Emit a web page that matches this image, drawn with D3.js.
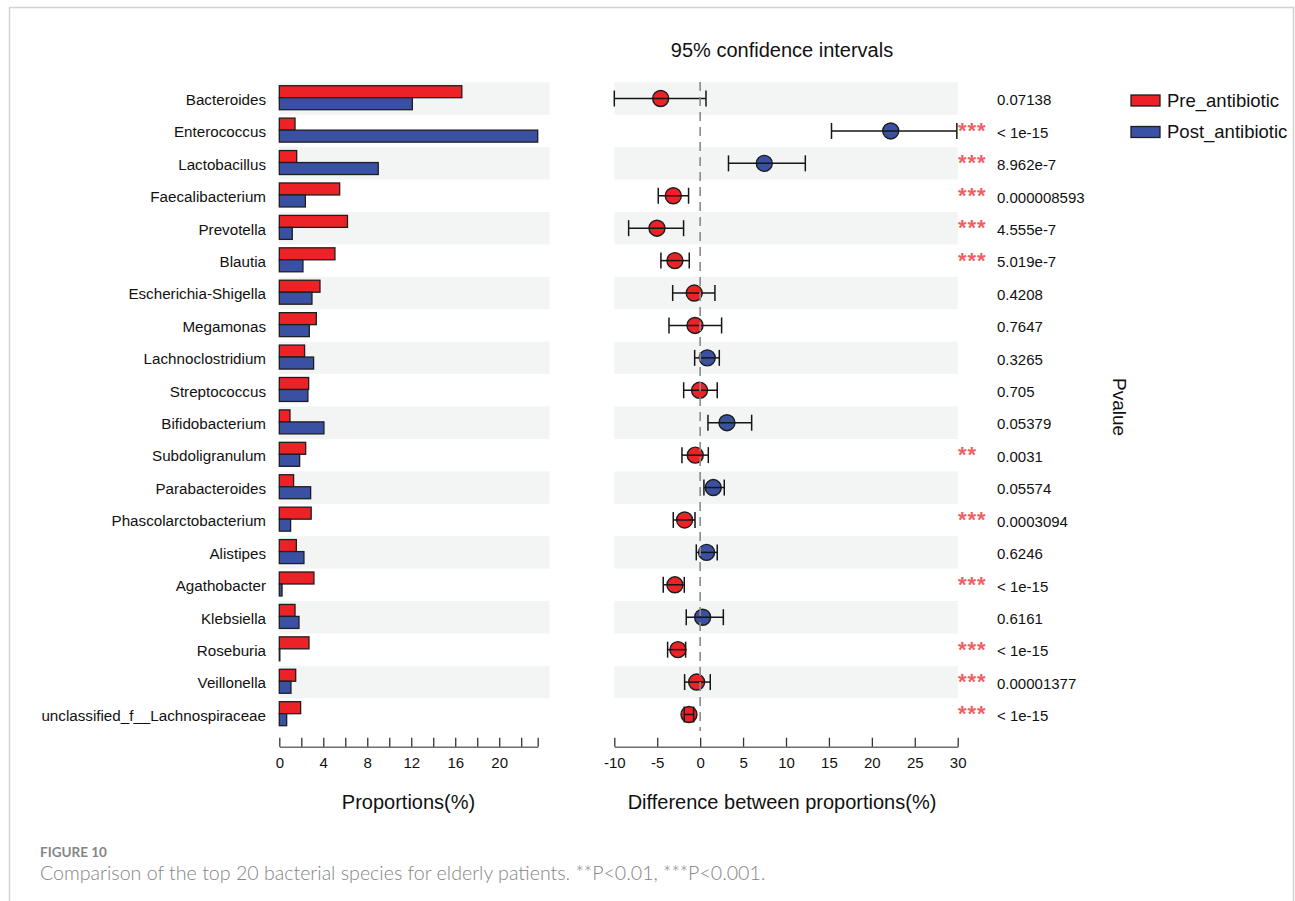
<!DOCTYPE html>
<html>
<head>
<meta charset="utf-8">
<script src="https://cdn.jsdelivr.net/npm/d3@7"></script>
<style>
  html, body { margin: 0; padding: 0; background: #fff; }
  svg { display: block; }
</style>
</head>
<body>
<svg id="fig" width="1295" height="901"></svg>
<script>
// Genera, top to bottom
const genera = [
  "Bacteroides", "Enterococcus", "Lactobacillus", "Faecalibacterium", "Prevotella",
  "Blautia", "Escherichia-Shigella", "Megamonas", "Lachnoclostridium", "Streptococcus",
  "Bifidobacterium", "Subdoligranulum", "Parabacteroides", "Phascolarctobacterium", "Alistipes",
  "Agathobacter", "Klebsiella", "Roseburia", "Veillonella", "unclassified_f__Lachnospiraceae"
];

// Mean relative abundance (%) per group
const preAntibiotic = [16.6, 1.43, 1.58, 5.49, 6.2, 5.06, 3.7, 3.37, 2.3, 2.67,
                       0.97, 2.4, 1.3, 2.9, 1.55, 3.15, 1.43, 2.7, 1.49, 1.94];
const postAntibiotic = [12.1, 23.5, 9.0, 2.37, 1.18, 2.15, 2.97, 2.73, 3.12, 2.6,
                        4.06, 1.85, 2.85, 1.03, 2.24, 0.25, 1.79, 0.05, 1.06, 0.67];

// Difference between proportions (%) with 95% confidence interval
const diffEstimate = [-4.6, 22.2, 7.47, -3.13, -5.03, -2.94, -0.69, -0.6, 0.83, -0.07,
                      3.12, -0.57, 1.53, -1.81, 0.75, -2.94, 0.29, -2.59, -0.41, -1.3];
const ciLower = [-10.0, 15.3, 3.3, -4.88, -8.33, -4.57, -3.2, -3.63, -0.64, -1.92,
                 0.91, -2.12, 0.44, -3.13, -0.45, -4.3, -1.62, -3.79, -1.81, -1.85];
const ciUpper = [0.68, 29.9, 12.25, -1.35, -1.93, -1.27, 1.72, 2.5, 2.23, 1.99,
                 6.0, 0.95, 2.81, -0.6, 1.99, -1.85, 2.7, -1.69, 1.18, -0.76];

// P values and significance marks
const pValues = ["0.07138", "< 1e-15", "8.962e-7", "0.000008593", "4.555e-7",
                 "5.019e-7", "0.4208", "0.7647", "0.3265", "0.705",
                 "0.05379", "0.0031", "0.05574", "0.0003094", "0.6246",
                 "< 1e-15", "0.6161", "< 1e-15", "0.00001377", "< 1e-15"];
const signif = ["", "***", "***", "***", "***", "***", "", "", "", "",
                "", "**", "", "***", "", "***", "", "***", "***", "***"];

const groups = ["Pre_antibiotic", "Post_antibiotic"];
const propTicks = [0, 2, 4, 6, 8, 10, 12, 14, 16, 18, 20, 22];
const propTickLabels = [0, 4, 8, 12, 16, 20];
const diffTicks = [-10, -5, 0, 5, 10, 15, 20, 25, 30];

const RED = "#ec2227";
const BLUE = "#3a51a3";
const OUTLINE = "#1e1e1e";
const BAND = "#f3f4f4";
const AXIS = "#6e6e6e";
const FONT = "'Liberation Sans', Arial, sans-serif";
const CAPTION_FONT = "Lato, 'Open Sans', sans-serif";

const svg = d3.select("#fig");

// outer frame of the figure
svg.append("rect")
  .attr("x", 9.5).attr("y", 7.5).attr("width", 1284).attr("height", 1000)
  .attr("fill", "none").attr("stroke", "#d2d2d2").attr("stroke-width", 1.5);

const y = d3.scaleBand().domain(genera).range([82.3, 730.7]).padding(0);
const bw = y.bandwidth();
const yc = g => y(g) + bw / 2;

const xProp = d3.scaleLinear().domain([0, 23.5]).range([279.3, 537.7]);
const xDiff = d3.scaleLinear().domain([-10, 30]).range([614.3, 957.7]);

// alternating row shading
const shaded = genera.filter((g, i) => i % 2 === 0);
svg.append("g").selectAll("rect").data(shaded).join("rect")
  .attr("x", xProp(0)).attr("width", 549.5 - xProp(0))
  .attr("y", d => y(d)).attr("height", bw).attr("fill", BAND);
svg.append("g").selectAll("rect").data(shaded).join("rect")
  .attr("x", xDiff(-10)).attr("width", xDiff(30) - xDiff(-10))
  .attr("y", d => y(d)).attr("height", bw).attr("fill", BAND);

// genus labels
svg.append("g").selectAll("text").data(genera).join("text")
  .attr("x", 266).attr("y", d => yc(d) + 1).attr("dy", "0.35em")
  .attr("text-anchor", "end")
  .style("font-family", FONT).style("font-size", "15.2px").attr("fill", "#111")
  .text(d => d);

// paired abundance bars
const barRows = genera.map((g, i) => ({ g, pre: preAntibiotic[i], post: postAntibiotic[i] }));
const bars = svg.append("g");
bars.selectAll("rect.pre").data(barRows).join("rect").attr("class", "pre")
  .attr("x", xProp(0)).attr("y", d => y(d.g) + bw * 0.105)
  .attr("width", d => xProp(d.pre) - xProp(0)).attr("height", bw * 0.37)
  .attr("fill", RED).attr("stroke", OUTLINE).attr("stroke-width", 1.3);
bars.selectAll("rect.post").data(barRows).join("rect").attr("class", "post")
  .attr("x", xProp(0)).attr("y", d => y(d.g) + bw * 0.475)
  .attr("width", d => xProp(d.post) - xProp(0)).attr("height", bw * 0.37)
  .attr("fill", BLUE).attr("stroke", OUTLINE).attr("stroke-width", 1.3);

// bottom axes, ticks pointing inward
const axisY = 746.7;
const plainNumber = d => String(d);   // ASCII hyphen for negatives
function styleAxis(g) {
  g.select(".domain").attr("stroke", AXIS).attr("stroke-width", 1.4);
  g.selectAll(".tick line").attr("stroke", "#333").attr("stroke-width", 1.3);
  g.selectAll(".tick text").style("font-family", FONT).style("font-size", "15px")
    .attr("fill", "#111").attr("y", 11);
}
const propAxis = svg.append("g").attr("transform", `translate(0,${axisY})`)
  .call(d3.axisBottom(xProp).tickValues(propTicks.concat([23.5]))
    .tickSize(-9).tickSizeOuter(0).tickPadding(11)
    .tickFormat(d => propTickLabels.includes(d) ? plainNumber(d) : ""));
styleAxis(propAxis);

const diffAxis = svg.append("g").attr("transform", `translate(0,${axisY})`)
  .call(d3.axisBottom(xDiff).tickValues(diffTicks)
    .tickSize(-9).tickSizeOuter(0).tickPadding(11).tickFormat(plainNumber));
styleAxis(diffAxis);

// confidence intervals
const ciRows = genera.map((g, i) => ({
  g, est: diffEstimate[i], lo: ciLower[i], hi: ciUpper[i]
}));
const ci = svg.append("g");
ci.selectAll("circle").data(ciRows).join("circle")
  .attr("cx", d => xDiff(d.est)).attr("cy", d => yc(d.g)).attr("r", 8)
  .attr("fill", d => d.est < 0 ? RED : BLUE)
  .attr("stroke", OUTLINE).attr("stroke-width", 1.4);
ci.selectAll("line.bar").data(ciRows).join("line").attr("class", "bar")
  .attr("x1", d => xDiff(d.lo)).attr("x2", d => xDiff(d.hi))
  .attr("y1", d => yc(d.g)).attr("y2", d => yc(d.g))
  .attr("stroke", "#151515").attr("stroke-width", 1.5);
ci.selectAll("line.capL").data(ciRows).join("line").attr("class", "capL")
  .attr("x1", d => xDiff(d.lo)).attr("x2", d => xDiff(d.lo))
  .attr("y1", d => yc(d.g) - 8).attr("y2", d => yc(d.g) + 8)
  .attr("stroke", "#151515").attr("stroke-width", 1.5);
ci.selectAll("line.capR").data(ciRows).join("line").attr("class", "capR")
  .attr("x1", d => xDiff(d.hi)).attr("x2", d => xDiff(d.hi))
  .attr("y1", d => yc(d.g) - 8).attr("y2", d => yc(d.g) + 8)
  .attr("stroke", "#151515").attr("stroke-width", 1.5);

// zero reference line
svg.append("line")
  .attr("x1", xDiff(0)).attr("x2", xDiff(0)).attr("y1", 82).attr("y2", 731)
  .attr("stroke", "#8a8a8a").attr("stroke-width", 1.6).attr("stroke-dasharray", "9,6");

// significance stars and p values
const pRows = genera.map((g, i) => ({ g, p: pValues[i], s: signif[i] }));
svg.append("g").selectAll("text").data(pRows.filter(d => d.s)).join("text")
  .attr("x", 958).attr("y", d => yc(d.g) + 7)
  .style("font-family", FONT).style("font-size", "22px").style("font-weight", "700")
  .style("letter-spacing", "1px").attr("fill", "#ef6165")
  .text(d => d.s);
svg.append("g").selectAll("text").data(pRows).join("text")
  .attr("x", 997).attr("y", d => yc(d.g) + 1.5).attr("dy", "0.35em")
  .style("font-family", FONT).style("font-size", "15px").attr("fill", "#111")
  .text(d => d.p);

// titles
svg.append("text").attr("x", 782).attr("y", 57).attr("text-anchor", "middle")
  .style("font-family", FONT).style("font-size", "20px").attr("fill", "#111")
  .text("95% confidence intervals");
svg.append("text").attr("x", 408.5).attr("y", 809).attr("text-anchor", "middle")
  .style("font-family", FONT).style("font-size", "20px").attr("fill", "#111")
  .text("Proportions(%)");
svg.append("text").attr("x", 782).attr("y", 809).attr("text-anchor", "middle")
  .style("font-family", FONT).style("font-size", "20px").attr("fill", "#111")
  .text("Difference between proportions(%)");
svg.append("text").attr("transform", "translate(1113,407) rotate(90)")
  .attr("text-anchor", "middle")
  .style("font-family", FONT).style("font-size", "19px").attr("fill", "#111")
  .text("Pvalue");

// legend
const legend = svg.append("g").selectAll("g").data(groups).join("g")
  .attr("transform", (d, i) => `translate(1131,${95 + i * 31.5})`);
legend.append("rect").attr("width", 29).attr("height", 11)
  .attr("fill", (d, i) => i === 0 ? RED : BLUE)
  .attr("stroke", OUTLINE).attr("stroke-width", 1.3);
legend.append("text").attr("x", 36).attr("y", 5.5).attr("dy", "0.35em")
  .style("font-family", FONT).style("font-size", "18.5px").attr("fill", "#111")
  .text(d => d);

// caption
svg.append("text").attr("x", 40).attr("y", 856.5)
  .style("font-family", CAPTION_FONT).style("font-size", "13.5px")
  .style("font-weight", "700").attr("fill", "#858585")
  .text("FIGURE 10");
svg.append("text").attr("x", 40).attr("y", 879.5)
  .style("font-family", CAPTION_FONT).style("font-size", "19.6px")
  .style("font-weight", "300").attr("fill", "#858585")
  .text("Comparison of the top 20 bacterial species for elderly patients. **P<0.01, ***P<0.001.");
</script>
</body>
</html>
